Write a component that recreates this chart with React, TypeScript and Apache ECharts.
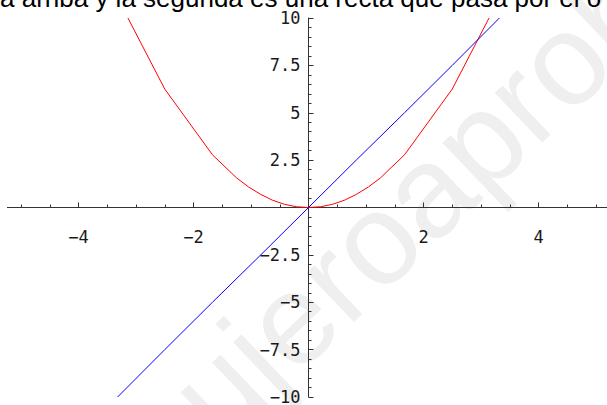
import React, { useEffect, useRef } from "react";
import * as echarts from "echarts";

// Parabola (red) points
const redX = [-3.14, -2.5, -1.67, -1.25, -1.04, -0.83, -0.63, -0.42, -0.21, 0, 0.21, 0.42, 0.63, 0.83, 1.04, 1.25, 1.67, 2.5, 3.14];
const redY = [10, 6.25, 2.78, 1.56, 1.08, 0.69, 0.39, 0.17, 0.04, 0, 0.04, 0.17, 0.39, 0.69, 1.08, 1.56, 2.78, 6.25, 10];

// Straight line (blue) points
const blueX = [-3.32, -2.5, -1.67, -0.83, 0, 0.83, 1.67, 2.5, 3.32];
const blueY = [-10, -7.5, -5, -2.5, 0, 2.5, 5, 7.5, 10];

const xTickStep = 2;
const yTickStep = 2.5;
const captionText = "a arriba y la segunda es una recta que pasa por el o";
const watermarkText = "agujeroaprobado";

const fmt = (v: number) => {
  if (Math.abs(v) < 1e-9) return "";
  const s = String(Math.round(Math.abs(v) * 100) / 100);
  return v < 0 ? "\u2212" + s : s;
};

export default function App() {
  const ref = useRef<HTMLDivElement>(null);
  useEffect(() => {
    if (!ref.current) return;
    const chart = echarts.init(ref.current, undefined, { renderer: "svg" });
    const labelFont = "DejaVu Sans Mono";
    const axisColor = "#333";
    const hiddenAxis = {
      show: false,
      axisLine: { show: false },
      axisTick: { show: false },
      axisLabel: { show: false },
      splitLine: { show: false },
    };
    const gridBase = { outerBoundsMode: "none", containLabel: false };
    chart.setOption({
      animation: false,
      backgroundColor: "#ffffff",
      grid: [
        // plotting area
        { ...gridBase, left: -36.5, width: 690, top: 18, height: 379 },
        // horizontal axis on the zero line
        { ...gridBase, left: -36.5, width: 690, top: 18, height: 189.5 },
        // vertical axis on the zero line
        { ...gridBase, left: 308.5, width: 400, top: 18, height: 379 },
      ],
      xAxis: [
        { ...hiddenAxis, type: "value", gridIndex: 0, min: -6, max: 6, interval: xTickStep },
        {
          type: "value",
          gridIndex: 1,
          position: "bottom",
          min: -6,
          max: 6,
          interval: xTickStep,
          axisLine: { show: true, onZero: false, lineStyle: { color: axisColor, width: 1 } },
          axisTick: { show: true, inside: true, length: 5, lineStyle: { color: axisColor } },
          minorTick: { show: true, splitNumber: 4, length: 3, lineStyle: { color: axisColor } },
          splitLine: { show: false },
          minorSplitLine: { show: false },
          axisLabel: {
            margin: 21,
            fontFamily: labelFont,
            fontSize: 17,
            color: "#1a1a1a",
            formatter: (v: number) => (Math.abs(v) >= 6 ? "" : fmt(v)),
          },
        },
        { ...hiddenAxis, type: "value", gridIndex: 2, min: 0, max: 6 },
      ],
      yAxis: [
        { ...hiddenAxis, type: "value", gridIndex: 0, min: -10, max: 10, interval: yTickStep },
        { ...hiddenAxis, type: "value", gridIndex: 1, min: 0, max: 10 },
        {
          type: "value",
          gridIndex: 2,
          position: "left",
          min: -10,
          max: 10,
          interval: yTickStep,
          axisLine: { show: true, onZero: false, lineStyle: { color: axisColor, width: 1 } },
          axisTick: { show: true, inside: true, length: 5, lineStyle: { color: axisColor } },
          minorTick: { show: true, splitNumber: 5, length: 3, lineStyle: { color: axisColor } },
          splitLine: { show: false },
          minorSplitLine: { show: false },
          axisLabel: {
            margin: 8,
            fontFamily: labelFont,
            fontSize: 17,
            color: "#1a1a1a",
            showMinLabel: true,
            showMaxLabel: true,
            formatter: (v: number) => fmt(v),
          },
        },
      ],
      graphic: [
        {
          type: "text",
          x: 442,
          y: 176,
          rotation: 0.761,
          z: -10,
          silent: true,
          style: {
            text: watermarkText,
            fontFamily: "Liberation Sans",
            fontSize: 130,
            fill: "#efefef",
            align: "center",
            verticalAlign: "middle",
          },
        },
        {
          type: "rect",
          z: 100,
          shape: { x: 0, y: 203, width: 7, height: 9 },
          style: { fill: "#ffffff" },
        },
        {
          type: "text",
          x: 0,
          y: 11,
          z: 100,
          style: {
            text: captionText,
            fontFamily: "Liberation Sans",
            fontSize: 26,
            fill: "#000",
            align: "left",
            verticalAlign: "bottom",
          },
        },
      ],
      series: [
        {
          type: "line",
          xAxisIndex: 0,
          yAxisIndex: 0,
          data: redX.map((x, i) => [x, redY[i]]),
          showSymbol: false,
          symbol: "none",
          lineStyle: { color: "#ff0000", width: 1 },
          itemStyle: { color: "#ff0000" },
          clip: true,
          z: 3,
        },
        {
          type: "line",
          xAxisIndex: 0,
          yAxisIndex: 0,
          data: blueX.map((x, i) => [x, blueY[i]]),
          showSymbol: false,
          symbol: "none",
          lineStyle: { color: "#0000ff", width: 1 },
          itemStyle: { color: "#0000ff" },
          clip: true,
          z: 4,
        },
      ],
    });
    return () => chart.dispose();
  }, []);
  return (
    <div
      ref={ref}
      style={{ position: "fixed", left: 0, top: 0, width: 607, height: 405 }}
    />
  );
}
